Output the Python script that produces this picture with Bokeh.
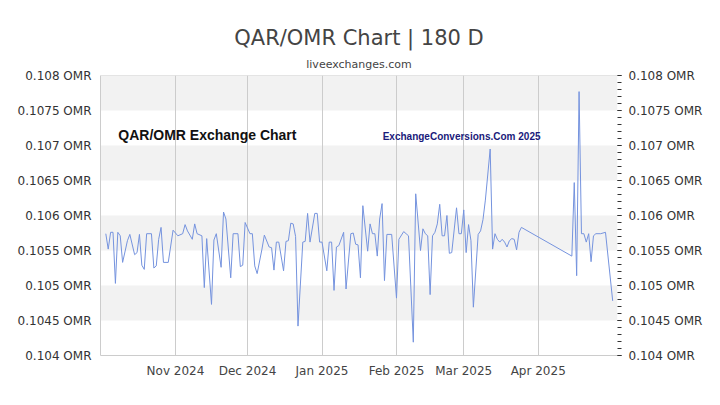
from datetime import datetime, timedelta

from bokeh.plotting import figure
from bokeh.models import (Range1d, LinearAxis, FixedTicker, CustomJSTickFormatter,
                          DatetimeTickFormatter, BoxAnnotation, Label, Title, Span)
from bokeh.embed import file_html
from bokeh.resources import INLINE

# ---------------- data ----------------
dates = [
    "2024-10-03", "2024-10-04", "2024-10-05", "2024-10-06", "2024-10-07", "2024-10-08",
    "2024-10-09", "2024-10-10", "2024-10-12", "2024-10-13", "2024-10-15", "2024-10-16",
    "2024-10-17", "2024-10-18", "2024-10-19", "2024-10-20", "2024-10-22", "2024-10-23",
    "2024-10-24", "2024-10-25", "2024-10-26", "2024-10-27", "2024-10-29", "2024-10-31",
    "2024-11-01", "2024-11-02", "2024-11-04", "2024-11-05", "2024-11-06", "2024-11-08",
    "2024-11-09", "2024-11-10", "2024-11-12", "2024-11-13", "2024-11-14", "2024-11-16",
    "2024-11-17", "2024-11-18", "2024-11-20", "2024-11-21", "2024-11-22", "2024-11-24",
    "2024-11-25", "2024-11-27", "2024-11-28", "2024-11-29", "2024-11-30", "2024-12-02",
    "2024-12-03", "2024-12-04", "2024-12-05", "2024-12-07", "2024-12-08", "2024-12-10",
    "2024-12-11", "2024-12-12", "2024-12-13", "2024-12-14", "2024-12-16", "2024-12-17",
    "2024-12-18", "2024-12-19", "2024-12-20", "2024-12-21", "2024-12-22", "2024-12-24",
    "2024-12-25", "2024-12-26", "2024-12-27", "2024-12-29", "2024-12-30", "2024-12-31",
    "2025-01-01", "2025-01-03", "2025-01-04", "2025-01-05", "2025-01-06", "2025-01-07",
    "2025-01-08", "2025-01-10", "2025-01-11", "2025-01-13", "2025-01-14", "2025-01-15",
    "2025-01-16", "2025-01-17", "2025-01-18", "2025-01-20", "2025-01-21", "2025-01-22",
    "2025-01-23", "2025-01-24", "2025-01-25", "2025-01-26", "2025-01-27", "2025-01-28",
    "2025-01-30", "2025-02-01", "2025-02-02", "2025-02-04", "2025-02-05", "2025-02-06",
    "2025-02-08", "2025-02-09", "2025-02-11", "2025-02-12", "2025-02-13", "2025-02-14",
    "2025-02-15", "2025-02-16", "2025-02-17", "2025-02-18", "2025-02-19", "2025-02-20",
    "2025-02-21", "2025-02-22", "2025-02-23", "2025-02-24", "2025-02-26", "2025-02-27",
    "2025-02-28", "2025-03-01", "2025-03-02", "2025-03-03", "2025-03-04", "2025-03-05",
    "2025-03-07", "2025-03-08", "2025-03-09", "2025-03-10", "2025-03-12", "2025-03-13",
    "2025-03-14", "2025-03-15", "2025-03-16", "2025-03-17", "2025-03-18", "2025-03-19",
    "2025-03-20", "2025-03-21", "2025-03-22", "2025-03-23", "2025-03-24", "2025-03-25",
    "2025-04-15", "2025-04-16", "2025-04-17", "2025-04-18", "2025-04-19", "2025-04-20",
    "2025-04-21", "2025-04-22", "2025-04-23", "2025-04-24", "2025-04-25", "2025-04-27",
    "2025-04-29", "2025-05-02",
]

rates = [
    0.10574, 0.10552, 0.10576, 0.10576, 0.10503, 0.10576,
    0.10571, 0.10533, 0.10564, 0.10573, 0.10544, 0.10547,
    0.10573, 0.10529, 0.10523, 0.10574, 0.10574, 0.10525,
    0.10528, 0.10566, 0.10583, 0.10533, 0.10533, 0.10579,
    0.10575, 0.10571, 0.10574, 0.10587, 0.10578, 0.10566,
    0.10588, 0.10574, 0.10571, 0.10497, 0.10567, 0.10473,
    0.10565, 0.10574, 0.10526, 0.10605, 0.10595, 0.10511,
    0.10574, 0.10574, 0.10527, 0.10529, 0.10590, 0.10574,
    0.10574, 0.10528, 0.10517, 0.10552, 0.10572, 0.10555,
    0.10554, 0.10522, 0.10562, 0.10562, 0.10521, 0.10563,
    0.10564, 0.10589, 0.10588, 0.10570, 0.10442, 0.10562,
    0.10563, 0.10603, 0.10562, 0.10603, 0.10603, 0.10562,
    0.10562, 0.10521, 0.10562, 0.10562, 0.10493, 0.10555,
    0.10557, 0.10576, 0.10495, 0.10574, 0.10575, 0.10559,
    0.10558, 0.10511, 0.10614, 0.10549, 0.10588, 0.10574,
    0.10574, 0.10542, 0.10595, 0.10617, 0.10507, 0.10573,
    0.10573, 0.10482, 0.10566, 0.10577, 0.10574, 0.10571,
    0.10419, 0.10631, 0.10550, 0.10581, 0.10574, 0.10571,
    0.10487, 0.10571, 0.10576, 0.10588, 0.10616, 0.10571,
    0.10571, 0.10600, 0.10546, 0.10547, 0.10611, 0.10574,
    0.10574, 0.10608, 0.10547, 0.10587, 0.10564, 0.10469,
    0.10573, 0.10578, 0.10594, 0.10622, 0.10695, 0.10552,
    0.10574, 0.10566, 0.10562, 0.10566, 0.10562, 0.10555,
    0.10564, 0.10567, 0.10566, 0.10551, 0.10576, 0.10583,
    0.10542, 0.10647, 0.10514, 0.10777, 0.10574, 0.10574,
    0.10562, 0.10574, 0.10534, 0.10571, 0.10574, 0.10574,
    0.10576, 0.10478,
]

month_ticks = ["2024-11-01", "2024-12-01", "2025-01-01", "2025-02-01", "2025-03-01", "2025-04-01"]
y_ticks = [0.104, 0.1045, 0.105, 0.1055, 0.106, 0.1065, 0.107, 0.1075, 0.108]
y_minor_ticks = [round(0.104 + i * 0.0001, 4) for i in range(41)]
bands = [(0.1045, 0.105), (0.1055, 0.106), (0.1065, 0.107), (0.1075, 0.108)]

title_text = "QAR/OMR Chart | 180 D"
subtitle_text = "liveexchanges.com"
watermark_left = "QAR/OMR Exchange Chart"
watermark_right = "ExchangeConversions.Com 2025"

# ---------------- helpers ----------------
EPOCH = datetime(1970, 1, 1)


def to_dt(s):
    return datetime.strptime(s, "%Y-%m-%d")


def to_ms(d):
    return (d - EPOCH).total_seconds() * 1000.0


x_vals = [to_dt(d) for d in dates]
x_start = datetime(2024, 9, 30, 19, 0)
x_end = datetime(2025, 5, 4, 0, 0)

FONT = "DejaVu Sans"
MARK_FONT = "Liberation Sans"

p = figure(width=720, height=405, x_axis_type="datetime",
           x_range=Range1d(x_start, x_end), y_range=Range1d(0.104, 0.108),
           output_backend="svg", toolbar_location=None, title=None,
           min_border_left=100, min_border_right=103, min_border_top=75, min_border_bottom=50)

p.outline_line_color = None
p.background_fill_color = "white"
p.border_fill_color = "white"

# bands
for b, t in bands:
    p.add_layout(BoxAnnotation(bottom=b, top=t, fill_color="#f2f2f2", fill_alpha=1.0,
                               line_alpha=0, level="image"))

# grids
p.ygrid.grid_line_color = None
p.xgrid.ticker = FixedTicker(ticks=[to_ms(to_dt(m)) for m in month_ticks])
p.xgrid.grid_line_color = "#cccccc"
p.xgrid.grid_line_width = 1

# top frame line
p.add_layout(Span(location=0.108, dimension="width", line_color="#cccccc", line_width=1))

# the series
p.line(x_vals, rates, line_color="#7593de", line_width=1)

# left axis
yl = p.yaxis[0]
yl.ticker = FixedTicker(ticks=y_ticks)
yl.formatter = CustomJSTickFormatter(code="return tick + ' OMR'")
yl.major_tick_line_color = None
yl.minor_tick_line_color = None
yl.major_tick_out = 0
yl.minor_tick_out = 0
yl.axis_line_color = "#cccccc"
yl.major_label_standoff = 9
yl.major_label_text_font = FONT
yl.major_label_text_font_size = "12px"
yl.major_label_text_color = "#333333"

# right axis
yr = LinearAxis(ticker=FixedTicker(ticks=y_ticks, minor_ticks=y_minor_ticks),
                formatter=CustomJSTickFormatter(code="return tick + ' OMR'"))
yr.axis_line_color = None
yr.major_tick_in = 0
yr.major_tick_out = 4
yr.minor_tick_in = 0
yr.minor_tick_out = 4
yr.major_tick_line_color = "#333333"
yr.minor_tick_line_color = "#333333"
yr.major_label_standoff = 7
yr.major_label_text_font = FONT
yr.major_label_text_font_size = "12px"
yr.major_label_text_color = "#333333"
p.add_layout(yr, "right")

# bottom axis
xa = p.xaxis[0]
xa.ticker = FixedTicker(ticks=[to_ms(to_dt(m)) for m in month_ticks])
xa.formatter = DatetimeTickFormatter(months="%b %Y", days="%b %Y", years="%b %Y")
xa.major_tick_line_color = None
xa.minor_tick_line_color = None
xa.major_tick_out = 0
xa.minor_tick_out = 0
xa.axis_line_color = "#cccccc"
xa.major_label_standoff = 8
xa.major_label_text_font = FONT
xa.major_label_text_font_size = "12px"
xa.major_label_text_color = "#444444"

# titles
p.add_layout(Title(text=subtitle_text, align="center", text_font=FONT, text_font_size="11px",
                   text_font_style="normal", text_color="#444444", standoff=10), "above")
p.add_layout(Title(text=title_text, align="center", text_font=FONT, text_font_size="21px",
                   text_font_style="normal", text_color="#444444", standoff=2), "above")

# watermark texts
p.add_layout(Label(x=to_ms(datetime(2024, 10, 8, 5)), y=0.10715, text=watermark_left,
                   text_font=MARK_FONT, text_font_style="bold",
                   text_font_size="14px", text_color="#111111", text_baseline="middle"))
p.add_layout(Label(x=to_ms(datetime(2025, 1, 26, 6)), y=0.10713, text=watermark_right,
                   text_font=MARK_FONT, text_font_style="bold",
                   text_font_size="10px", text_color="#1a1a7a", text_baseline="middle"))

open("out.html", "w").write(file_html(p, INLINE))
